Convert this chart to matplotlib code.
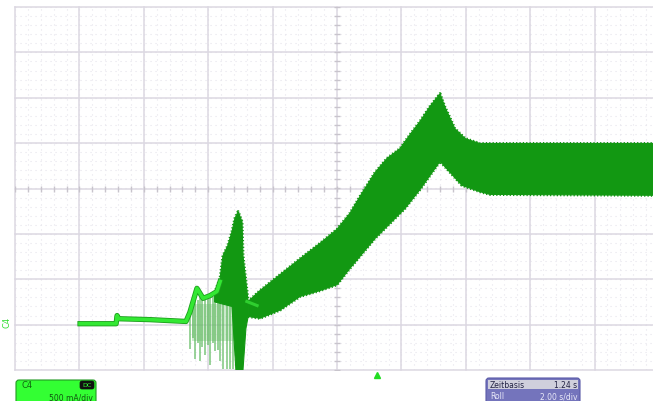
import matplotlib
matplotlib.use('Agg')
import matplotlib.pyplot as plt
from matplotlib.patches import FancyBboxPatch, Rectangle
import matplotlib.patheffects as pe
import numpy as np

# ---- data (time in s, 2.00 s/div; current in divisions, 500 mA/div) ----
idle_t = [2.02, 3.14, 3.17, 3.22, 4.19, 5.31, 5.43, 5.65, 5.84, 6.06, 6.27, 6.37]
idle_y = [-2.98, -2.98, -2.80, -2.87, -2.89, -2.93, -2.73, -2.20, -2.42, -2.36, -2.27, -2.05]

after_t = [7.20, 7.52]
after_y = [-2.49, -2.58]

peak_up_t = [6.20, 6.37, 6.46, 6.61, 6.74, 6.83, 6.93, 7.05, 7.08, 7.24]
peak_up_y = [-2.30, -1.98, -1.48, -1.26, -0.95, -0.66, -0.51, -0.73, -1.48, -2.49]
peak_lo_t = [6.20, 6.74, 6.86, 7.08, 7.17, 7.24]
peak_lo_y = [-2.50, -2.60, -4.00, -4.00, -3.09, -2.82]

band_up_t = [7.24, 7.61, 8.23, 8.85, 9.47, 10.00, 10.40, 10.71, 11.18, 11.55, 11.96, 12.27, 12.58,
             12.89, 13.20, 13.35, 13.66, 13.98, 14.44, 20.0]
band_up_y = [-2.49, -2.25, -1.90, -1.55, -1.21, -0.90, -0.55, -0.18, 0.35, 0.66, 0.88, 1.19, 1.48,
             1.81, 2.09, 1.80, 1.32, 1.10, 0.99, 0.99]
band_lo_t = [7.24, 7.61, 8.23, 8.85, 9.47, 10.00, 10.40, 11.18, 12.11, 12.58, 13.20, 13.88, 14.44,
             14.75, 20.0]
band_lo_y = [-2.82, -2.86, -2.68, -2.38, -2.25, -2.12, -1.76, -1.10, -0.44, -0.02, 0.60, 0.07, -0.07,
             -0.13, -0.15]

spike_t = [5.43, 5.52, 5.59, 5.67, 5.74, 5.82, 5.90, 5.98, 6.06, 6.14, 6.21, 6.29, 6.37, 6.46, 6.58, 6.68, 6.77]
spike_top = [-2.70, -2.45, -2.40, -2.45, -2.40, -2.45, -2.45, -2.40, -2.40, -2.40, -2.35, -2.40, -2.40, -2.45, -2.50, -2.50, -2.55]
spike_bot = [-3.53, -3.30, -3.75, -3.40, -3.81, -3.50, -3.68, -3.45, -3.90, -3.40, -3.59, -3.55, -3.81, -3.97, -3.97, -3.97, -3.97]

haze_t = [5.50, 6.83, 6.83, 5.50]
haze_y = [-2.55, -2.55, -3.35, -3.35]

W, H = 653, 402
fig = plt.figure(figsize=(W / 100, H / 100), dpi=100)
fig.patch.set_facecolor('white')

ax = fig.add_axes([15 / W, (H - 371) / H, 644 / W, 363 / H])
ax.set_xlim(0, 20)
ax.set_ylim(-4, 4)
ax.set_facecolor('white')
for s in ax.spines.values():
    s.set_visible(False)
ax.set_xticks([])
ax.set_yticks([])

grid_c = '#dcd8e2'
# minor dotted grid
for xv in np.arange(0, 20.01, 0.4):
    ax.axvline(xv, color='#e6e4ec', lw=0.8, ls=(0, (1, 3.5)), zorder=0)
for yv in np.arange(-4, 4.01, 0.2):
    ax.axhline(yv, color='#e6e4ec', lw=0.8, ls=(0, (1, 3.5)), zorder=0)
for xv in range(0, 21, 2):
    ax.axvline(xv, color=grid_c, lw=1.1, zorder=1, clip_on=False)
for yv in range(-4, 5):
    ax.axhline(yv, color=grid_c, lw=1.1, zorder=1, clip_on=False)
# centre crosshair ticks
tx = np.arange(0, 20.01, 0.4)
ax.plot(tx, np.zeros_like(tx), ls='none', marker='|', ms=4, color='#c8c4cc', mew=1, zorder=1)
ty = np.arange(-4, 4.01, 0.2)
ax.plot(np.full_like(ty, 10.0), ty, ls='none', marker='_', ms=4, color='#c8c4cc', mew=1, zorder=1)

dark = '#129812'
bright = '#33e833'
fuzz_ls = (0, (0.4, 0.7))

# haze + spikes
ax.fill(haze_t, haze_y, color='#8fd08f', alpha=0.45, lw=0, zorder=2)
ax.vlines(spike_t, spike_bot, spike_top, color='#5cb85c', lw=1.1, alpha=0.8, zorder=3)

# peak region
ax.fill(peak_up_t + peak_lo_t[::-1], peak_up_y + peak_lo_y[::-1], color=dark, lw=0.8, ec=dark, zorder=4)
ax.plot(peak_up_t, peak_up_y, color=dark, lw=2.2, ls=fuzz_ls, zorder=4)
# main band
ax.fill(band_up_t + band_lo_t[::-1], band_up_y + band_lo_y[::-1], color=dark, lw=0.8, ec=dark, zorder=4)
ax.plot(band_up_t, band_up_y, color=dark, lw=2.2, ls=fuzz_ls, zorder=4)
ax.plot(band_lo_t, band_lo_y, color=dark, lw=2.2, ls=fuzz_ls, zorder=4)

# bright idle trace
ax.plot(idle_t, idle_y, color=bright, lw=2.6, zorder=5,
        path_effects=[pe.Stroke(linewidth=3.8, foreground='#1c9e1c'), pe.Normal()])
ax.plot(after_t, after_y, color='#2fcf2f', lw=2.2, zorder=5)

# ---- overlay for scope decorations ----
ov = fig.add_axes([0, 0, 1, 1])
ov.set_xlim(0, W)
ov.set_ylim(H, 0)
ov.axis('off')
ov.patch.set_alpha(0)

ov.text(7, 322, 'C4', rotation=90, color='#33dd33', fontsize=6, ha='center', va='center')
ov.plot([377], [375.5], marker='^', ms=5, color='#22dd22', ls='none')

# channel box
ov.add_patch(FancyBboxPatch((16, 381), 80, 30, boxstyle='round,pad=0,rounding_size=3',
                            fc='#33ff33', ec='#229922', lw=0.8))
ov.text(21, 386, 'C4', fontsize=6, color='#116611', va='center', ha='left')
ov.add_patch(FancyBboxPatch((80, 382), 14, 8, boxstyle='round,pad=0,rounding_size=2',
                            fc='#111111', ec='#111111', lw=0.5))
ov.text(87, 386, 'DC', fontsize=4.5, color='#33ff33', va='center', ha='center')
ov.text(93, 398, '500 mA/div', fontsize=5.5, color='#115511', va='center', ha='right')

# timebase box
ov.add_patch(FancyBboxPatch((486, 379), 94, 30, boxstyle='round,pad=0,rounding_size=3',
                            fc='#7474bc', ec='#5a5aa8', lw=0.8))
ov.add_patch(Rectangle((488, 381), 90, 9, fc='#cfcfdc', ec='none'))
ov.text(490, 385.5, 'Zeitbasis', fontsize=5.5, color='#222244', va='center', ha='left')
ov.text(577, 385.5, '1.24 s', fontsize=5.5, color='#222244', va='center', ha='right')
ov.text(490, 397, 'Roll', fontsize=5.5, color='#e8e8f8', va='center', ha='left')
ov.text(577, 397, '2.00 s/div', fontsize=5.5, color='#e8e8f8', va='center', ha='right')

fig.savefig('out.png', dpi=100)
